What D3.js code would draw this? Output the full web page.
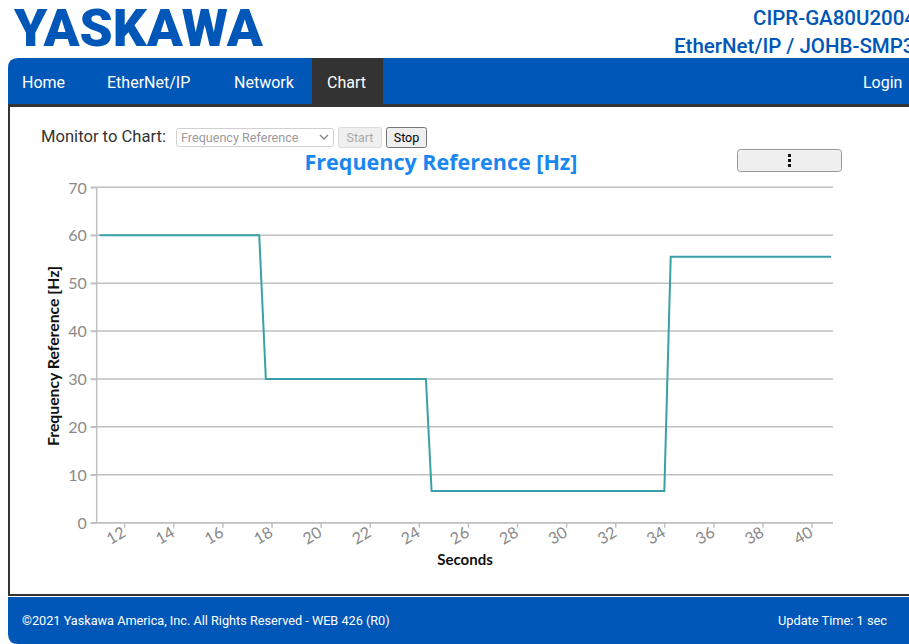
<!DOCTYPE html>
<html>
<head>
<meta charset="utf-8">
<script src="https://cdn.jsdelivr.net/npm/d3@7"></script>
<style>
  body { margin: 0; background: #fff; overflow: hidden; }
  svg { display: block; }
</style>
</head>
<body>
<script>
const W = 909, H = 644;
const BLUE = '#0057b8';
const DARK = '#333333';
const LINE_COLOR = '#3a9fa9';
const CHART_FONT = 'Lato, "Open Sans", sans-serif';
const PAGE_FONT = 'Roboto, "Liberation Sans", sans-serif';

// data
const times = [11.0, 17.5, 17.77, 24.29, 24.52, 34.0, 34.26, 40.79];
const freq = [60, 60, 30, 30, 6.6, 6.6, 55.5, 55.5];
const xTicks = [12, 14, 16, 18, 20, 22, 24, 26, 28, 30, 32, 34, 36, 38, 40];
const yTicks = [0, 10, 20, 30, 40, 50, 60, 70];
const navItems = ['Home', 'EtherNet/IP', 'Network', 'Chart'];
const navX = [22, 107, 234, 327];

var svg = d3.select('body').append('svg')
    .attr('width', W)
    .attr('height', H);

// ---- header ----
svg.append('text')
    .attr('x', 14).attr('y', 46)
    .attr('textLength', 249).attr('lengthAdjust', 'spacingAndGlyphs')
    .style('font-family', PAGE_FONT).style('font-weight', 900)
    .style('font-size', '51px').style('fill', BLUE)
    .text('YASKAWA');
// these two run past the right edge in the original page as well
svg.append('text')
    .attr('x', 753).attr('y', 25)
    .style('font-family', PAGE_FONT).style('font-weight', 500)
    .style('font-size', '20.5px').style('fill', BLUE)
    .text('CIPR-GA80U2004');
svg.append('text')
    .attr('x', 674).attr('y', 53)
    .style('font-family', PAGE_FONT).style('font-weight', 500)
    .style('font-size', '20.5px').style('fill', BLUE)
    .text('EtherNet/IP / JOHB-SMP3');

// ---- nav bar ----
svg.append('path')
    .attr('d', 'M8,105 V68 Q8,58 18,58 H' + (W + 20) + ' V105 Z')
    .style('fill', BLUE);
svg.append('rect')
    .attr('x', 312).attr('y', 58).attr('width', 71).attr('height', 47)
    .style('fill', DARK);
svg.append('rect')
    .attr('x', 8).attr('y', 104).attr('width', W).attr('height', 3)
    .style('fill', DARK);
svg.selectAll('.nav')
    .data(navItems)
    .enter().append('text')
    .attr('class', 'nav')
    .attr('x', (d, i) => navX[i]).attr('y', 88)
    .style('font-family', PAGE_FONT).style('font-size', '16px').style('fill', '#fff')
    .text(d => d);
svg.append('text')
    .attr('x', 863).attr('y', 88)
    .style('font-family', PAGE_FONT).style('font-size', '16px').style('fill', '#fff')
    .text('Login');

// ---- panel borders ----
svg.append('rect')
    .attr('x', 8).attr('y', 104).attr('width', 2).attr('height', 492)
    .style('fill', DARK);
svg.append('rect')
    .attr('x', 8).attr('y', 594).attr('width', W).attr('height', 2)
    .style('fill', DARK);

// ---- footer ----
svg.append('path')
    .attr('d', 'M8,597 H' + (W + 20) + ' V' + H + ' H18 Q8,' + H + ' 8,' + (H - 10) + ' Z')
    .style('fill', BLUE);
svg.append('text')
    .attr('x', 22).attr('y', 625)
    .style('font-family', PAGE_FONT).style('font-size', '12.7px').style('fill', '#fff')
    .text('©2021 Yaskawa America, Inc. All Rights Reserved - WEB 426 (R0)');
svg.append('text')
    .attr('x', 887).attr('y', 625).attr('text-anchor', 'end')
    .style('font-family', PAGE_FONT).style('font-size', '12.8px').style('fill', '#fff')
    .text('Update Time: 1 sec');

// ---- controls ----
svg.append('text')
    .attr('x', 41).attr('y', 142)
    .style('font-family', PAGE_FONT).style('font-size', '16.6px').style('fill', DARK)
    .text('Monitor to Chart:');
svg.append('rect')
    .attr('x', 176.5).attr('y', 128.5).attr('width', 157).attr('height', 18).attr('rx', 2)
    .style('fill', '#fff').style('stroke', '#d0d0d0');
svg.append('text')
    .attr('x', 181).attr('y', 142)
    .style('font-family', PAGE_FONT).style('font-size', '12.6px').style('fill', '#9a9a9a')
    .text('Frequency Reference');
svg.append('path')
    .attr('d', 'M320,135 L324,139 L328,135')
    .style('fill', 'none').style('stroke', '#888').style('stroke-width', 1.5);
svg.append('rect')
    .attr('x', 338.5).attr('y', 127.5).attr('width', 43).attr('height', 20).attr('rx', 2)
    .style('fill', '#efefef').style('stroke', '#dcdcdc');
svg.append('text')
    .attr('x', 360).attr('y', 142).attr('text-anchor', 'middle')
    .style('font-family', PAGE_FONT).style('font-size', '12.5px').style('fill', '#aaa')
    .text('Start');
svg.append('rect')
    .attr('x', 386.5).attr('y', 127.5).attr('width', 40).attr('height', 20).attr('rx', 2)
    .style('fill', '#efefef').style('stroke', '#767676');
svg.append('text')
    .attr('x', 406.5).attr('y', 142).attr('text-anchor', 'middle')
    .style('font-family', PAGE_FONT).style('font-size', '12.5px').style('fill', '#000')
    .text('Stop');
svg.append('rect')
    .attr('x', 737.5).attr('y', 149.5).attr('width', 104).attr('height', 22).attr('rx', 3)
    .style('fill', '#efefef').style('stroke', '#999');
svg.selectAll('.dot')
    .data([154, 159, 164])
    .enter().append('rect')
    .attr('class', 'dot')
    .attr('x', 788).attr('y', d => d).attr('width', 3).attr('height', 3)
    .style('fill', '#111');

// ---- chart ----
const x = d3.scaleLinear().domain([10.88, 40.87]).range([96.7, 833]);
const y = d3.scaleLinear().domain([0, 70]).range([522.7, 187.3]);

svg.append('text')
    .attr('x', 441).attr('y', 170).attr('text-anchor', 'middle')
    .attr('textLength', 273).attr('lengthAdjust', 'spacingAndGlyphs')
    .style('font-family', '"Open Sans", Lato, sans-serif').style('font-weight', 'bold')
    .style('font-size', '22px').style('fill', '#1a86f0')
    .text('Frequency Reference [Hz]');

// horizontal gridlines
svg.append('g')
    .selectAll('line')
    .data(yTicks)
    .enter().append('line')
    .attr('x1', x.range()[0] - 6).attr('x2', x.range()[1])
    .attr('y1', d => y(d)).attr('y2', d => y(d))
    .style('stroke', '#c0c0c0').style('stroke-width', 1.5);

var yAxis = svg.append('g')
    .attr('transform', 'translate(' + x.range()[0] + ',0)')
    .call(d3.axisLeft(y).tickValues(yTicks).tickSize(6).tickPadding(4));
var xAxis = svg.append('g')
    .attr('transform', 'translate(0,' + y.range()[0] + ')')
    .call(d3.axisBottom(x).tickValues(xTicks).tickSize(5).tickPadding(3));

[xAxis, yAxis].forEach(a => {
    a.select('.domain').style('stroke', '#c0c0c0').style('stroke-width', 1.5);
    a.selectAll('.tick line').style('stroke', '#c0c0c0').style('stroke-width', 1.5);
    a.selectAll('.tick text')
        .style('font-family', CHART_FONT).style('font-size', '16px').style('fill', '#8a8a8a');
});
yAxis.select('.domain').attr('d', 'M0,' + y.range()[1] + 'V' + y.range()[0]);
xAxis.select('.domain').attr('d', 'M' + x.range()[0] + ',0H' + x.range()[1]);
yAxis.selectAll('.tick line').attr('x2', -6);
yAxis.selectAll('.tick text').attr('dy', '0.36em');
xAxis.selectAll('.tick text')
    .attr('text-anchor', 'end')
    .attr('y', 0)
    .attr('dy', 0)
    .attr('transform', 'translate(2,13) rotate(-30)');

svg.append('text')
    .attr('x', 465).attr('y', 565).attr('text-anchor', 'middle')
    .style('font-family', CHART_FONT).style('font-weight', 'bold')
    .style('font-size', '15px').style('fill', '#111')
    .text('Seconds');
svg.append('text')
    .attr('transform', 'translate(59,356) rotate(-90)').attr('text-anchor', 'middle')
    .attr('textLength', 180).attr('lengthAdjust', 'spacingAndGlyphs')
    .style('font-family', CHART_FONT).style('font-weight', 'bold')
    .style('font-size', '14.5px').style('fill', '#111')
    .text('Frequency Reference [Hz]');

// series line
var line = d3.line()
    .x((d, i) => x(times[i]))
    .y(d => y(d));
svg.append('path')
    .datum(freq)
    .attr('d', line)
    .style('fill', 'none')
    .style('stroke', LINE_COLOR)
    .style('stroke-width', 2);
</script>
</body>
</html>
